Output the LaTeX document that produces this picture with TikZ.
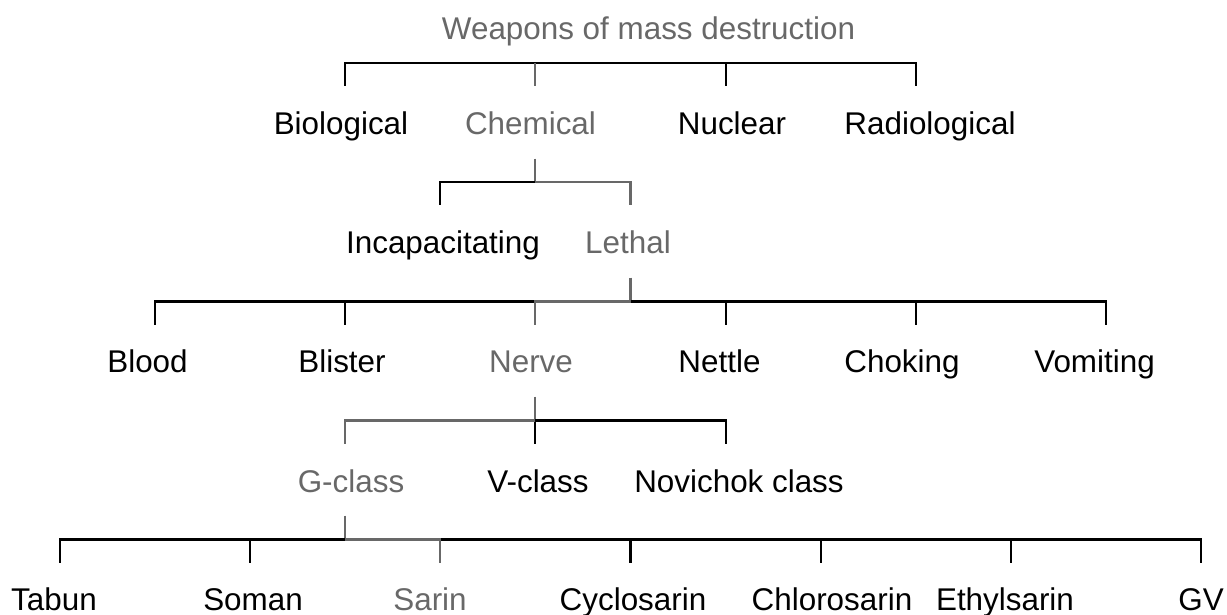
\documentclass[tikz,border=0pt]{standalone}
\usepackage{fontspec}
\setmainfont{Liberation Sans}
\usepackage{xcolor}
\usepackage{tikz}
\definecolor{pathgray}{RGB}{104,104,104}
\tikzstyle{txt} = [anchor=base, inner sep=0pt, font=\fontsize{31.4}{36}\selectfont]
\tikzstyle{hltxt} = [txt, text=pathgray]
\tikzstyle{line} = [draw, line width=2.1pt]
\tikzstyle{hlline} = [line, draw=pathgray]

\begin{document}
\begin{tikzpicture}[x=1pt, y=1pt]
\useasboundingbox (0,0) rectangle (1227,-615);

\node [hltxt] (wmd) at (648.5,-40) {Weapons of mass destruction};
\coordinate (wmd-j) at (535.4,-63);

\node [txt] (bio) at (341,-135) {Biological};
\node [hltxt] (chem) at (530.5,-135) {Chemical};
\node [txt] (nuc) at (732,-135) {Nuclear};
\node [txt] (rad) at (930,-135) {Radiological};
\coordinate (bio-t) at (345.2,-86.5);
\coordinate (chem-t) at (535.4,-86.5);
\coordinate (nuc-t) at (725.6,-86.5);
\coordinate (rad-t) at (915.7,-86.5);
\path [line] (wmd-j) -| (bio-t);
\path [line] (wmd-j) -| (nuc-t);
\path [line] (wmd-j) -| (rad-t);
\path [hlline] (wmd-j) -| (chem-t);

\coordinate (chem-s) at (535.4,-158.7);
\coordinate (chem-j) at (535.4,-182);
\node [txt] (incap) at (443,-253) {Incapacitating};
\node [hltxt] (lethal) at (628,-253) {Lethal};
\coordinate (incap-t) at (440.3,-205.5);
\coordinate (lethal-t) at (630.5,-205.5);
\path [hlline] (chem-s) -- (chem-j);
\path [line] (chem-j) -| (incap-t);
\path [hlline] (chem-j) -| (lethal-t);

\coordinate (lethal-s) at (630.5,-277.5);
\coordinate (lethal-j) at (630.5,-301.5);
\node [txt] (blood) at (147.5,-372) {Blood};
\node [txt] (blister) at (342,-372) {Blister};
\node [hltxt] (nerve) at (531,-372) {Nerve};
\node [txt] (nettle) at (719.5,-372) {Nettle};
\node [txt] (choking) at (902,-372) {Choking};
\node [txt] (vomit) at (1094.5,-372) {Vomiting};
\coordinate (blood-t) at (155.1,-325);
\coordinate (blister-t) at (345.2,-325);
\coordinate (nerve-t) at (535.4,-325);
\coordinate (nettle-t) at (725.6,-325);
\coordinate (choking-t) at (915.7,-325);
\coordinate (vomit-t) at (1105.9,-325);
\path [hlline] (lethal-s) -- (lethal-j);
\path [line] (lethal-j) -| (blood-t);
\path [line] (lethal-j) -| (blister-t);
\path [line] (lethal-j) -| (nettle-t);
\path [line] (lethal-j) -| (choking-t);
\path [line] (lethal-j) -| (vomit-t);
\path [hlline] (lethal-j) -| (nerve-t);

\coordinate (nerve-s) at (535.4,-396.7);
\coordinate (nerve-j) at (535.4,-420.5);
\node [hltxt] (gclass) at (351,-492) {G-class};
\node [txt] (vclass) at (538,-492) {V-class};
\node [txt] (novi) at (739,-492) {Novichok class};
\coordinate (gclass-t) at (345.2,-444);
\coordinate (vclass-t) at (535.4,-444);
\coordinate (novi-t) at (725.6,-444);
\path [hlline] (nerve-s) -- (nerve-j);
\path [line] (nerve-j) -| (vclass-t);
\path [line] (nerve-j) -| (novi-t);
\path [hlline] (nerve-j) -| (gclass-t);

\coordinate (gclass-s) at (345.2,-515.5);
\coordinate (gclass-j) at (345.2,-539.5);
\node [txt] (tabun) at (54,-610) {Tabun};
\node [txt] (soman) at (253,-610) {Soman};
\node [hltxt] (sarin) at (430,-610) {Sarin};
\node [txt] (cyclo) at (633,-610) {Cyclosarin};
\node [txt] (chloro) at (832,-610) {Chlorosarin};
\node [txt] (ethyl) at (1005,-610) {Ethylsarin};
\node [txt] (gv) at (1201,-610) {GV};
\coordinate (tabun-t) at (60,-563);
\coordinate (soman-t) at (250.2,-563);
\coordinate (sarin-t) at (440.3,-563);
\coordinate (cyclo-t) at (630.5,-563);
\coordinate (chloro-t) at (820.6,-563);
\coordinate (ethyl-t) at (1010.8,-563);
\coordinate (gv-t) at (1201,-563);
\path [hlline] (gclass-s) -- (gclass-j);
\path [line] (gclass-j) -| (tabun-t);
\path [line] (gclass-j) -| (soman-t);
\path [line] (gclass-j) -| (cyclo-t);
\path [line] (gclass-j) -| (chloro-t);
\path [line] (gclass-j) -| (ethyl-t);
\path [line] (gclass-j) -| (gv-t);
\path [hlline] (gclass-j) -| (sarin-t);
\end{tikzpicture}
\end{document}
